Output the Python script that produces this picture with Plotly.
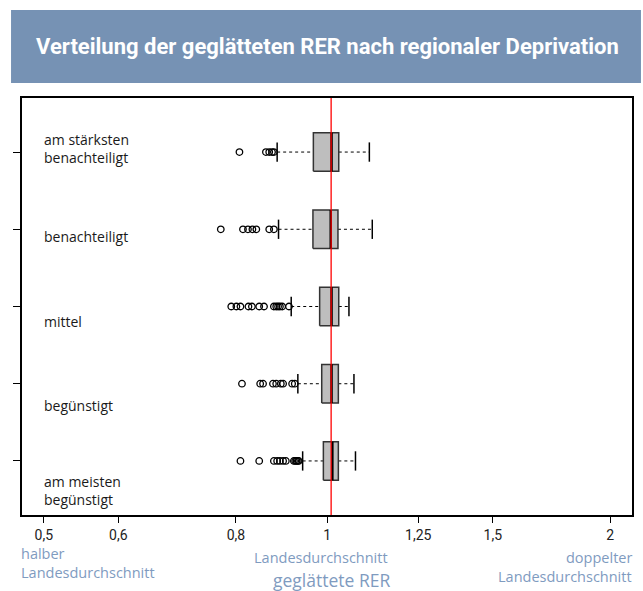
import plotly.graph_objects as go
import numpy as np

# ---------------- data ----------------
categories = ["am meisten<br>begünstigt", "begünstigt", "mittel", "benachteiligt",
              "am stärksten<br>benachteiligt"]
positions = [1, 2, 3, 4, 5]

q1 = [0.991, 0.987, 0.982, 0.966, 0.967]
median = [1.013, 1.011, 1.011, 1.009, 1.011]
q3 = [1.028, 1.028, 1.029, 1.027, 1.029]
whisker_low = [0.942, 0.931, 0.916, 0.888, 0.885]
whisker_high = [1.072, 1.068, 1.055, 1.117, 1.109]

outliers_1 = [0.809, 0.847, 0.878, 0.885, 0.891, 0.898, 0.904, 0.922, 0.925, 0.928, 0.931, 0.933]
outliers_2 = [0.812, 0.849, 0.855, 0.876, 0.883, 0.893, 0.898, 0.918, 0.924]
outliers_3 = [0.791, 0.801, 0.809, 0.825, 0.832, 0.847, 0.857, 0.878, 0.883, 0.887, 0.891, 0.896, 0.911]
outliers_4 = [0.771, 0.814, 0.824, 0.833, 0.841, 0.868, 0.878]
outliers_5 = [0.807, 0.861, 0.868, 0.874, 0.878]
outliers = [outliers_1, outliers_2, outliers_3, outliers_4, outliers_5]

reference_value = 1.01
tick_values = [0.5, 0.6, 0.8, 1, 1.25, 1.5, 2]
tick_labels = ["0,5", "0,6", "0,8", "1", "1,25", "1,5", "2"]

title = "Verteilung der geglätteten RER nach regionaler Deprivation"
x_title = "geglättete RER"

# ---------------- layout constants ----------------
W, H = 643, 591
PL, PR, PT, PB = 22, 634, 98, 515
BOX_HALF = 0.25
CAP_HALF = 0.125
label_y = [0.612, 1.72, 2.809, 3.907, 5.047]
FONT = "Roboto, DejaVu Sans, sans-serif"
TEXT_FONT = "Open Sans, Roboto, sans-serif"
ANN_COLOR = "#7f9bbf"

def px2x(px):
    return (px - PL) / (PR - PL)

def px2y(py):
    return (PB - py) / (PB - PT)

fig = go.Figure()

for i, pos in enumerate(positions):
    # dashed whiskers
    fig.add_trace(go.Scatter(
        x=[whisker_low[i], q1[i], None, q3[i], whisker_high[i]],
        y=[pos, pos, None, pos, pos], mode="lines",
        line=dict(color="black", width=1, dash="3px,3px"),
        showlegend=False, hoverinfo="skip"))
    # caps
    fig.add_trace(go.Scatter(
        x=[whisker_low[i], whisker_low[i], None, whisker_high[i], whisker_high[i]],
        y=[pos - CAP_HALF, pos + CAP_HALF, None, pos - CAP_HALF, pos + CAP_HALF],
        mode="lines", line=dict(color="black", width=1.5),
        showlegend=False, hoverinfo="skip"))
    # box
    fig.add_trace(go.Scatter(
        x=[q1[i], q3[i], q3[i], q1[i], q1[i]],
        y=[pos - BOX_HALF, pos - BOX_HALF, pos + BOX_HALF, pos + BOX_HALF, pos - BOX_HALF],
        mode="lines", fill="toself", fillcolor="#bebebe",
        line=dict(color="#333333", width=1.5),
        showlegend=False, hoverinfo="skip"))
    # median
    fig.add_trace(go.Scatter(
        x=[median[i], median[i]], y=[pos - BOX_HALF, pos + BOX_HALF],
        mode="lines", line=dict(color="black", width=2.5),
        showlegend=False, hoverinfo="skip"))
    # outliers
    fig.add_trace(go.Scatter(
        x=outliers[i], y=[pos] * len(outliers[i]), mode="markers",
        marker=dict(symbol="circle-open", size=6.5, color="black", line=dict(width=1.3)),
        showlegend=False, hoverinfo="skip"))

# reference line
fig.add_shape(type="line", xref="x", yref="paper",
              x0=reference_value, x1=reference_value, y0=0, y1=1,
              line=dict(color="#ff0000", width=1.3), layer="above")

# title banner
fig.add_shape(type="rect", xref="paper", yref="paper",
              x0=px2x(11), x1=px2x(643), y0=px2y(83), y1=px2y(10),
              fillcolor="#7692b4", line=dict(width=0), layer="below")
fig.add_annotation(text="<b>" + title + "</b>", xref="paper", yref="paper",
                   x=px2x(328), y=px2y(46), xanchor="center", yanchor="middle",
                   showarrow=False,
                   font=dict(family="Roboto, sans-serif", size=22, color="white"))

# category labels
for lab, ly in zip(categories, label_y):
    fig.add_annotation(text=lab, xref="paper", yref="y", x=px2x(42), y=ly,
                       xanchor="left", yanchor="middle", align="left", showarrow=False,
                       font=dict(family=TEXT_FONT, size=14, color="#1a1a1a"))

# bottom annotations
def bottom(text, x, y, anchor, size=14.5):
    fig.add_annotation(text=text, xref="paper", yref="paper", x=px2x(x), y=px2y(y),
                       xanchor=anchor, yanchor="middle", showarrow=False,
                       font=dict(family=TEXT_FONT, size=size, color=ANN_COLOR))

bottom("halber", 19, 553, "left")
bottom("Landesdurchschnitt", 19, 572, "left")
bottom("Landesdurchschnitt", 322, 557, "center")
bottom("doppelter", 636, 557, "right")
bottom("Landesdurchschnitt", 636, 576, "right")
bottom(x_title, 333, 580, "center", size=17.5)

fig.update_xaxes(type="log", range=[np.log10(0.474), np.log10(2.109)],
                 tickvals=tick_values, ticktext=tick_labels,
                 ticks="outside", ticklen=6, tickwidth=1.2, tickcolor="black",
                 showline=True, linecolor="black", linewidth=1.6, mirror=True,
                 showgrid=False, zeroline=False,
                 tickfont=dict(family=FONT, size=14, color="#222222"))
fig.update_yaxes(range=[0.3, 5.7], tickvals=positions, showticklabels=False,
                 ticks="outside", ticklen=7, tickwidth=1.2, tickcolor="black",
                 showline=True, linecolor="black", linewidth=1.6, mirror=True,
                 showgrid=False, zeroline=False)

fig.update_layout(width=W, height=H,
                  margin=dict(l=PL, r=W - PR, t=PT, b=H - PB, pad=0),
                  paper_bgcolor="white", plot_bgcolor="white",
                  showlegend=False, font=dict(family=FONT))

fig.write_html("out.html", config={"displayModeBar": False},
               post_script="document.body.style.margin='0px';")
